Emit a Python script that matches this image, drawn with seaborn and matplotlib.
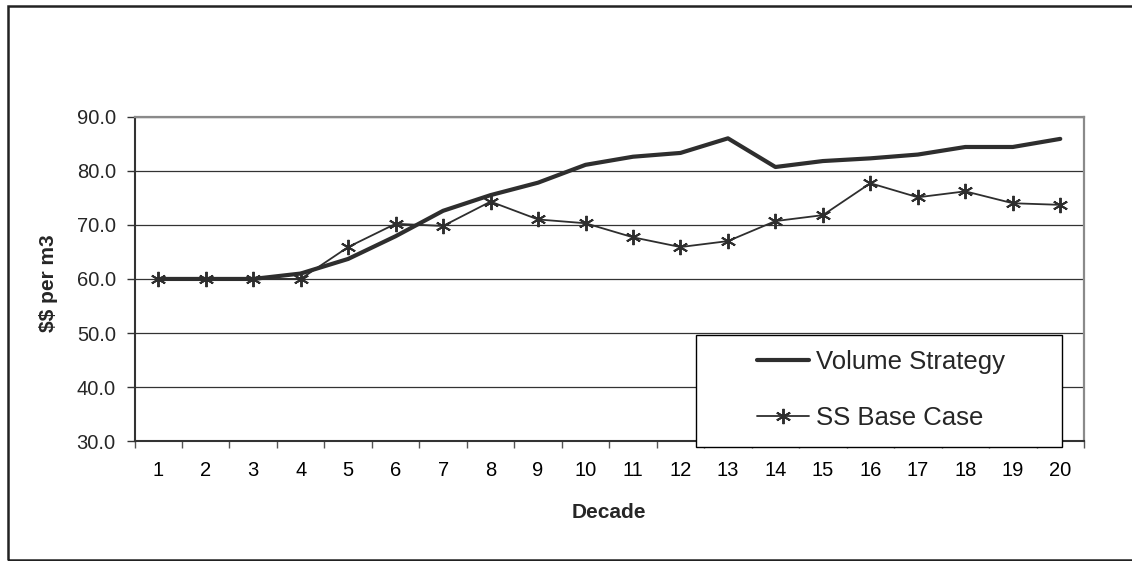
import matplotlib
matplotlib.use("Agg")
import matplotlib.pyplot as plt
from matplotlib.patches import Rectangle
from matplotlib.ticker import FixedLocator, NullFormatter
import seaborn as sns
import pandas as pd

decades = list(range(1, 21))
volume_strategy = [60.0, 60.0, 60.0, 61.0, 63.7, 67.9, 72.6, 75.5, 77.8, 81.1,
                   82.6, 83.3, 86.0, 80.7, 81.8, 82.3, 83.0, 84.4, 84.4, 85.9]
ss_base_case = [60.0, 60.0, 60.0, 60.0, 65.9, 70.2, 69.8, 74.3, 71.0, 70.3,
                67.7, 65.9, 67.0, 70.7, 71.8, 77.7, 75.1, 76.2, 74.0, 73.7]
series_names = ["Volume Strategy", "SS Base Case"]
y_ticks = [30, 40, 50, 60, 70, 80, 90]

sns.set_style("white")
plt.rcParams["font.family"] = ["Liberation Sans", "DejaVu Sans"]
plt.rcParams["text.parse_math"] = False

W, H = 1132, 561
fig = plt.figure(figsize=(W / 100, H / 100), dpi=100)
ax = fig.add_axes([134.5 / W, 1 - 441.2 / H, (1084 - 134.5) / W, 324.5 / H])

df = pd.DataFrame({"Decade": decades, "vol": volume_strategy, "ss": ss_base_case})
ink = "#2e2e2e"
sns.lineplot(data=df, x="Decade", y="vol", ax=ax, color=ink, lw=3.0,
             label=series_names[0], zorder=4)
sns.lineplot(data=df, x="Decade", y="ss", ax=ax, color=ink, lw=1.3,
             marker=(6, 2, 0), markersize=11, markeredgewidth=1.4,
             markeredgecolor=ink, label=series_names[1], zorder=5)

ax.set_xlim(0.5, 20.5)
ax.set_ylim(30, 90)
ax.set_yticks(y_ticks)
ax.set_yticklabels([f"{v:.1f}" for v in y_ticks])
ax.set_xticks(decades)
ax.set_xticklabels([str(d) for d in decades])
ax.xaxis.set_minor_locator(FixedLocator([i + 0.5 for i in range(0, 21)]))
ax.xaxis.set_minor_formatter(NullFormatter())
ax.tick_params(axis="x", which="major", length=0, pad=14, labelsize=14.5, colors="black")
ax.tick_params(axis="x", which="minor", length=5, width=1.0, color="#555555", bottom=True)
ax.tick_params(axis="y", which="major", length=6, width=1.0, color="#333333",
               pad=7.5, labelsize=14.5, left=True)

ax.grid(axis="y", color="#333333", lw=0.9, zorder=1)
ax.grid(axis="x", visible=False)
ax.set_axisbelow(True)

for side in ["top", "right"]:
    ax.spines[side].set_color("#8a8a8a")
    ax.spines[side].set_linewidth(1.6)
for side in ["left", "bottom"]:
    ax.spines[side].set_color("#333333")
    ax.spines[side].set_linewidth(1.5)

ax.set_ylabel("$$ per m3", fontsize=15, fontweight="bold", va="center", ha="center")
ax.yaxis.set_label_coords((49 - 134.5) / (1084 - 134.5), (441.2 - 283.5) / 324.5)
ax.set_xlabel("Decade", fontsize=15, fontweight="bold", va="center", ha="center")
ax.xaxis.set_label_coords(0.5, (441.2 - 512) / 324.5)

# legend box
rect = Rectangle((695.7 / W, 1 - 446.7 / H), 366 / W, 111.7 / H,
                 transform=fig.transFigure, facecolor="white", edgecolor="black",
                 lw=1.0, zorder=20, clip_on=False)
ax.add_artist(rect)
leg = ax.legend(loc="center", bbox_to_anchor=(881 / W, 1 - 390 / H),
                bbox_transform=fig.transFigure, frameon=False, fontsize=18.5,
                handlelength=2.0, handletextpad=0.27, labelspacing=1.22,
                borderpad=0)
leg.set_zorder(21)

# outer chart border
border = Rectangle((8 / W, 1 - 559.5 / H), 1.2, (559.5 - 6) / H,
                   transform=fig.transFigure, facecolor="none", edgecolor="#222222",
                   lw=1.8, clip_on=False)
fig.add_artist(border)

fig.savefig("out.png", dpi=100)
